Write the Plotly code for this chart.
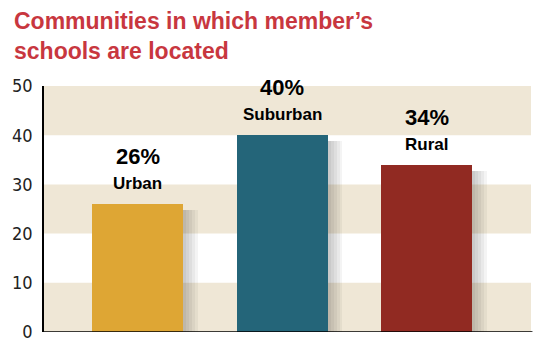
import plotly.graph_objects as go

categories = ["Urban", "Suburban", "Rural"]
values = [26, 40, 34]
colors = ["#dea634", "#246579", "#912a22"]
band_ranges = [(0, 10), (20, 30), (40, 50)]
tick_vals = [0, 10, 20, 30, 40, 50]

x_idx = list(range(len(categories)))

fig = go.Figure()

# soft shadow layers
for dx in [0.10, 0.08, 0.06, 0.04, 0.02]:
    fig.add_trace(go.Bar(
        x=[i + dx for i in x_idx], y=[v - 1.2 for v in values], width=0.63,
        marker=dict(color="rgba(0,0,0,0.045)", line=dict(width=0)),
        hoverinfo="skip", showlegend=False,
    ))

fig.add_trace(go.Bar(
    x=x_idx, y=values, width=0.63,
    marker=dict(color=colors, line=dict(width=0)),
    showlegend=False,
))

shapes = []
for lo, hi in band_ranges:
    shapes.append(dict(type="rect", xref="paper", yref="y", x0=0, x1=1, y0=lo, y1=hi,
                       fillcolor="#efe7d6", line=dict(width=0), layer="below"))
shapes.append(dict(type="line", xref="paper", yref="y", x0=0, x1=1.003, y0=0, y1=0,
                   line=dict(color="black", width=1.5)))

label_font = "Liberation Sans, Arial"
annotations = []
for i, (c, v) in enumerate(zip(categories, values)):
    annotations.append(dict(x=i, y=v, xref="x", yref="y", text=f"{v}%", showarrow=False,
                            yanchor="bottom", yshift=33,
                            font=dict(family=label_font, size=22, color="black", weight="bold")))
    annotations.append(dict(x=i, y=v, xref="x", yref="y", text=c, showarrow=False,
                            yanchor="bottom", yshift=9,
                            font=dict(family=label_font, size=17, color="black", weight="bold")))

annotations.append(dict(text="Communities in which member’s<br>schools are located",
                        xref="paper", yref="paper", x=(10 - 42) / 489, y=1 + (86 - 5) / 249,
                        xanchor="left", yanchor="top", align="left", showarrow=False,
                        font=dict(family="Liberation Sans, Arial", size=23, color="#c8373f", weight="bold")))

fig.update_layout(
    width=546, height=354,
    margin=dict(l=42, r=15, t=86, b=19),
    paper_bgcolor="white", plot_bgcolor="white",
    barmode="overlay",
    bargap=0,
    xaxis=dict(range=[-0.65, 2.72], showticklabels=False, showgrid=False, zeroline=False,
               showline=False, ticks=""),
    yaxis=dict(range=[0, 50], tickvals=tick_vals, showgrid=False, zeroline=False,
               showline=True, linecolor="black", linewidth=1.5, ticks="",
               ticklabelstandoff=6,
               tickfont=dict(family="DejaVu Sans Condensed, Liberation Sans", size=18, color="#222")),
    shapes=shapes,
    annotations=annotations,
)

fig.write_html("out.html")
